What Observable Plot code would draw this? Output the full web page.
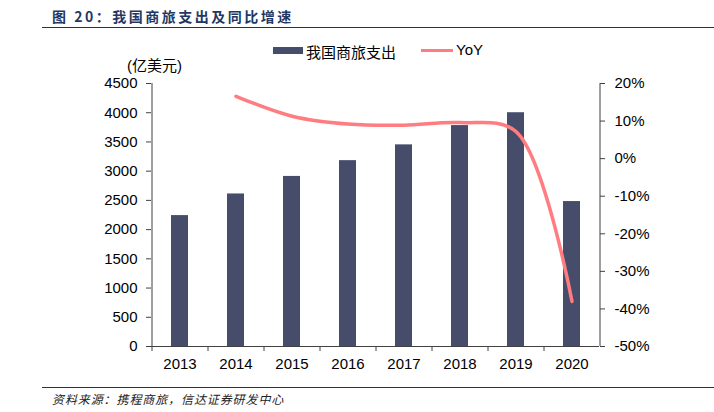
<!DOCTYPE html>
<html>
<head>
<meta charset="utf-8">
<script src="https://cdn.jsdelivr.net/npm/d3@7"></script>
<script src="https://cdn.jsdelivr.net/npm/@observablehq/plot@0.6"></script>
<style>
  html, body { margin: 0; padding: 0; background: #fff; }
  #wrap { position: relative; width: 714px; height: 412px; overflow: hidden; font-family: "Liberation Sans", Arial, "Noto Sans CJK SC", sans-serif; }
  #chart { position: absolute; left: 0; top: 0; }
  .abs { position: absolute; white-space: nowrap; }
  #title { left: 52px; top: 6px; font-family: "Noto Sans CJK SC", sans-serif; font-weight: bold; font-size: 14px; color: #1f3864; letter-spacing: 2.5px; }
  #topline { left: 42px; top: 27px; width: 672px; height: 0; border-top: 1px solid #333; }
  #botline { left: 42px; top: 387px; width: 672px; height: 0; border-top: 1px solid #333; }
  #foot { left: 52px; top: 390px; font-family: "Noto Sans CJK SC", sans-serif; font-style: italic; font-size: 12px; color: #222; letter-spacing: 0.9px; }
  #unit { left: 127px; top: 54px; font-size: 15px; font-family: "Liberation Sans", "Noto Sans CJK SC", sans-serif; color: #000; }
  .leg { font-size: 15px; color: #000; font-family: "Liberation Sans", "Noto Sans CJK SC", sans-serif; }
</style>
</head>
<body>
<div id="wrap">
  <div id="chart"></div>
  <div class="abs" id="title"></div>
  <div class="abs" id="topline"></div>
  <div class="abs" id="unit"></div>
  <div class="abs" id="legend1sw" style="left:273px;top:47px;width:30px;height:7px;background:#454d6b;"></div>
  <div class="abs leg" id="legend1" style="left:306px;top:41px;"></div>
  <div class="abs" id="legend2sw" style="left:421px;top:49px;width:32px;height:3px;background:#ff7c80;"></div>
  <div class="abs leg" id="legend2" style="left:456px;top:41px;"></div>
  <div class="abs" id="botline"></div>
  <div class="abs" id="foot"></div>
</div>
<script>
// ---- data ----
const years = [2013, 2014, 2015, 2016, 2017, 2018, 2019, 2020];
const spend = [2240, 2610, 2910, 3180, 3450, 3780, 4000, 2480];
const yoyYears = [2014, 2015, 2016, 2017, 2018, 2019, 2020];
const yoy = [16.6, 11.3, 9.2, 8.9, 9.6, 7.2, -38.0];
const leftTicks = [0, 500, 1000, 1500, 2000, 2500, 3000, 3500, 4000, 4500];
const rightTicks = [-50, -40, -30, -20, -10, 0, 10, 20];
const titleText = "图 20：我国商旅支出及同比增速";
const unitText = "(亿美元)";
const seriesBar = "我国商旅支出";
const seriesLine = "YoY";
const footText = "资料来源：携程商旅，信达证券研发中心";

document.getElementById("title").textContent = titleText;
document.getElementById("unit").textContent = unitText;
document.getElementById("legend1").textContent = seriesBar;
document.getElementById("legend2").textContent = seriesLine;
document.getElementById("foot").textContent = footText;

// right axis (%) mapped onto left scale
const leftMax = 4500, rMin = -50, rMax = 20;
const toLeft = v => (v - rMin) * leftMax / (rMax - rMin);
const fromLeft = d => Math.round(d * (rMax - rMin) / leftMax + rMin);

const barData = years.map((y, i) => ({year: y, value: spend[i]}));
const lineData = yoyYears.map((y, i) => ({year: y, yoy: yoy[i]}));

const axisColor = "#404040";
const fontFam = "Liberation Sans, Arial, sans-serif";

const plot = Plot.plot({
  width: 714,
  height: 412,
  marginLeft: 151,
  marginRight: 115,
  marginTop: 83,
  marginBottom: 66,
  style: {fontFamily: fontFam, fontSize: "15px", color: "#000", background: "transparent"},
  x: {type: "band", domain: years, paddingInner: 0.7, paddingOuter: 0.35, axis: null, label: null},
  y: {domain: [0, leftMax], axis: null, label: null},
  marks: [
    Plot.barY(barData, {x: "year", y: "value", fill: "#454d6b"}),
    Plot.line(lineData, {x: "year", y: d => toLeft(d.yoy), stroke: "#ff7c80", strokeWidth: 3.5, curve: "catmull-rom"}),
    // axis lines
    Plot.ruleY([0], {stroke: axisColor, strokeWidth: 1}),
    Plot.ruleX([years[0]], {dx: -28, stroke: axisColor, strokeWidth: 1}),
    Plot.ruleX([years[years.length - 1]], {dx: 28, stroke: axisColor, strokeWidth: 1}),
    // left axis
    Plot.axisY(leftTicks, {anchor: "left", label: null, tickSize: 5, tickPadding: 9, stroke: axisColor, fill: "#000", fontSize: 15, tickFormat: d => String(d)}),
    // right axis
    Plot.axisY(rightTicks.map(toLeft), {anchor: "right", label: null, tickSize: 5, tickPadding: 10, stroke: axisColor, fill: "#000", fontSize: 15, tickFormat: d => fromLeft(d) + "%"}),
    // x axis boundary ticks
    Plot.axisX({anchor: "bottom", label: null, tickSize: 5, dx: -28, stroke: axisColor, tickFormat: () => ""}),
    // x labels
    Plot.axisX({anchor: "bottom", label: null, tickSize: 0, tickPadding: 12, fill: "#000", fontSize: 15, tickFormat: d => String(d)})
  ]
});
document.getElementById("chart").appendChild(plot);
</script>
</body>
</html>
